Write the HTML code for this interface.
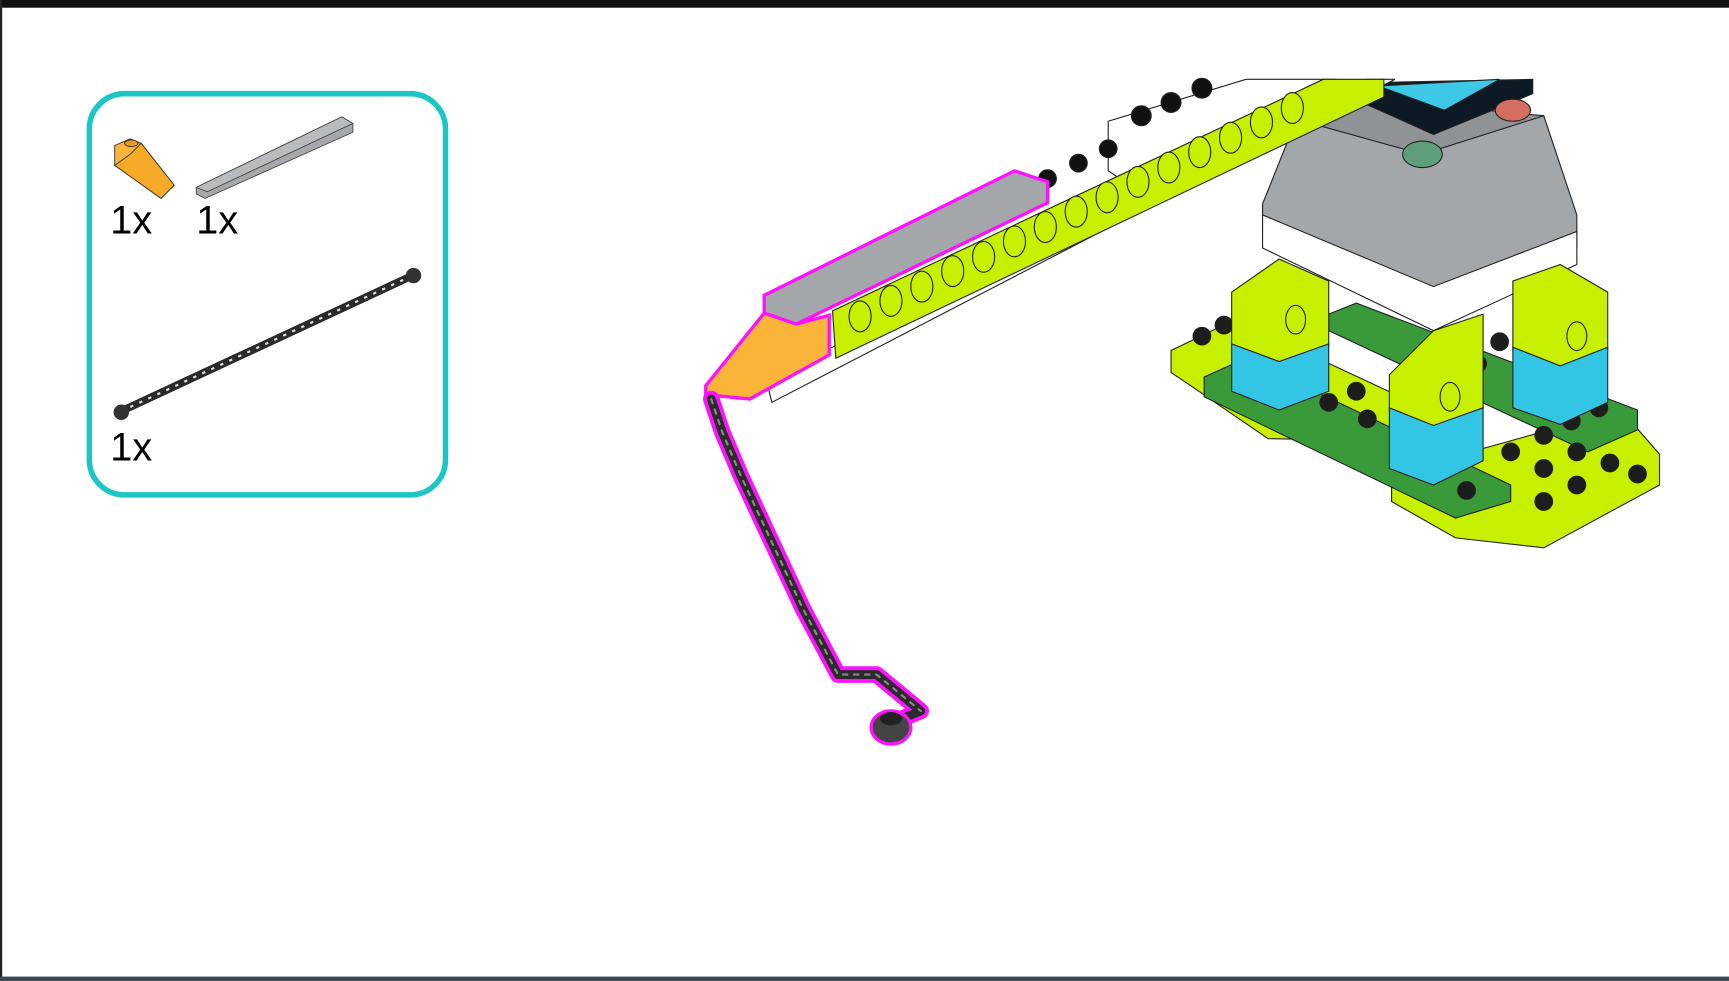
<!DOCTYPE html>
<html><head><meta charset="utf-8"><style>
html,body{margin:0;padding:0;background:#fff;}
svg{display:block;}
text{font-family:"Liberation Sans",sans-serif;}
</style></head><body>
<svg width="1729" height="981" viewBox="0 0 1568 890" preserveAspectRatio="none">
<rect x="0" y="0" width="1568" height="890" fill="#fff"/>
<rect x="0" y="0" width="1568" height="7" fill="#111"/>
<rect x="0" y="0" width="2" height="890" fill="#222"/>
<rect x="0" y="886" width="1568" height="4" fill="#3a4a52"/>

<g>
<rect x="81" y="85" width="323" height="364" rx="32" fill="none" stroke="#1cc6c6" stroke-width="5"/>
<g stroke="#333" stroke-width="0.8">
<polygon points="104,132 118,126 128,130 158,168 146,180 104,150" fill="#fbb43a"/>
<polygon points="104,150 146,180 158,168 128,130 118,140" fill="#f7a928"/>
<ellipse cx="119" cy="130" rx="6" ry="3" fill="#e89a20"/>
</g>
<g stroke="#444" stroke-width="0.8">
<polygon points="178,170 310,106 320,112 320,120 186,180 178,176" fill="#a6a9ac"/>
<polygon points="178,170 310,106 320,112 188,174" fill="#b9bcbf"/>
</g>
<text x="100" y="212" font-size="36">1x</text>
<text x="178" y="212" font-size="36">1x</text>
<g>
<line x1="110" y1="373" x2="374" y2="250" stroke="#2a2a2a" stroke-width="7"/>
<line x1="110" y1="373" x2="374" y2="250" stroke="#ddd" stroke-width="2" stroke-dasharray="3 6"/>
<circle cx="110" cy="374" r="7" fill="#333"/>
<circle cx="375" cy="250" r="7" fill="#333"/>
</g>
<text x="100" y="418" font-size="36">1x</text>
</g>

<g stroke="#222" stroke-width="1">
<polygon points="1062,318 1120,290 1270,360 1270,400 1150,398 1080,350 1062,338" fill="#c6f000"/>
<polygon points="1262,430 1470,372 1505,412 1505,440 1400,497 1320,488 1262,455" fill="#c6f000"/>
<polygon points="1205,285 1230,275 1485,372 1485,390 1440,410 1205,300" fill="#3a9a3a"/>
<polygon points="1092,342 1130,325 1370,440 1370,455 1320,470 1092,360" fill="#3a9a3a"/>
<g fill="#1d1d1d">
<circle cx="1090" cy="305" r="8"/><circle cx="1110" cy="295" r="8"/><circle cx="1230" cy="355" r="8"/><circle cx="1205" cy="365" r="8"/><circle cx="1240" cy="380" r="8"/>
<circle cx="1400" cy="395" r="8"/><circle cx="1430" cy="410" r="8"/><circle cx="1460" cy="420" r="8"/><circle cx="1400" cy="425" r="8"/><circle cx="1430" cy="440" r="8"/><circle cx="1370" cy="410" r="8"/><circle cx="1400" cy="455" r="8"/><circle cx="1485" cy="430" r="8"/><circle cx="1330" cy="445" r="8"/><circle cx="1450" cy="370" r="8"/><circle cx="1425" cy="382" r="8"/><circle cx="1360" cy="310" r="8"/><circle cx="1340" cy="330" r="8"/>
</g>
<polygon points="1175,110 1400,105 1430,195 1430,225 1300,275 1145,210 1145,185" fill="#a3a7aa"/>
<polygon points="1145,195 1300,260 1430,210 1430,240 1300,300 1145,225" fill="#fff"/>
<polygon points="1175,108 1240,90 1400,105 1290,140" fill="#8f9396"/>
<polygon points="1240,75 1390,72 1390,85 1300,122 1240,95" fill="#0d1a24"/>
<polygon points="1250,78 1360,72 1310,100" fill="#3cc8e6"/>
<ellipse cx="1290" cy="140" rx="18" ry="12" fill="#5e9e7a"/>
<ellipse cx="1372" cy="100" rx="16" ry="10" fill="#d46e60"/>
<polygon points="1117,265 1160,235 1205,255 1205,315 1160,330 1117,315" fill="#c6f000"/>
<polygon points="1117,312 1160,328 1205,312 1205,355 1160,372 1117,355" fill="#33c5e4"/>
<polygon points="1372,255 1415,240 1458,265 1458,318 1415,335 1372,318" fill="#c6f000"/>
<polygon points="1372,315 1415,332 1458,315 1458,365 1415,385 1372,370" fill="#33c5e4"/>
<polygon points="1260,340 1300,300 1345,285 1345,370 1300,388 1260,372" fill="#c6f000"/>
<polygon points="1260,370 1300,386 1345,370 1345,418 1300,440 1260,425" fill="#33c5e4"/>
<ellipse cx="1175" cy="290" rx="9" ry="13" fill="#c6f000"/>
<ellipse cx="1430" cy="305" rx="9" ry="13" fill="#c6f000"/>
<ellipse cx="1315" cy="360" rx="9" ry="13" fill="#c6f000"/>
</g>

<g stroke="#222" stroke-width="1">
<polygon points="695,345 1240,72 1265,72 700,365" fill="#fff"/>
<polygon points="1005,110 1130,72 1210,72 1035,175 1005,155" fill="#fff"/>
<g fill="#111"><circle cx="1035" cy="105" r="9"/><circle cx="1062" cy="93" r="9"/><circle cx="1090" cy="80" r="9"/><circle cx="1005" cy="135" r="8"/><circle cx="978" cy="148" r="8"/><circle cx="950" cy="162" r="8"/></g>
<polygon points="755,282 1200,72 1255,72 1255,88 758,325" fill="#c6f000"/>
<g fill="#c6f000" stroke="#222">
<ellipse cx="780" cy="287" rx="10" ry="14"/><ellipse cx="808" cy="273" rx="10" ry="14"/><ellipse cx="836" cy="260" rx="10" ry="14"/><ellipse cx="864" cy="246" rx="10" ry="14"/><ellipse cx="892" cy="233" rx="10" ry="14"/><ellipse cx="920" cy="219" rx="10" ry="14"/><ellipse cx="948" cy="206" rx="10" ry="14"/><ellipse cx="976" cy="192" rx="10" ry="14"/><ellipse cx="1004" cy="179" rx="10" ry="14"/><ellipse cx="1032" cy="165" rx="10" ry="14"/><ellipse cx="1060" cy="152" rx="10" ry="14"/><ellipse cx="1088" cy="138" rx="10" ry="14"/><ellipse cx="1116" cy="125" rx="10" ry="14"/><ellipse cx="1144" cy="111" rx="10" ry="14"/><ellipse cx="1172" cy="98" rx="10" ry="14"/>
</g>
<polygon points="693,268 920,155 950,165 950,184 722,294 693,284" fill="#a3a7aa" stroke="#ff10ff" stroke-width="3"/>
<polygon points="640,350 693,284 722,294 752,286 752,322 680,362 640,358" fill="#fbb43a" stroke="#ff10ff" stroke-width="3"/>
</g>

<g fill="none" stroke-linejoin="round" stroke-linecap="round">
<polyline points="645,362 655,392 672,432 700,492 728,552 760,612 795,612 835,645 818,652" stroke="#ff10ff" stroke-width="15"/>
<polyline points="645,362 655,392 672,432 700,492 728,552 760,612 795,612 835,645 818,652" stroke="#2b2b2b" stroke-width="8"/>
<polyline points="645,362 655,392 672,432 700,492 728,552 760,612 795,612 835,645" stroke="#888" stroke-width="2" stroke-dasharray="4 6"/>
<ellipse cx="808" cy="660" rx="18" ry="15" fill="#444" stroke="#ff10ff" stroke-width="3"/>
<ellipse cx="808" cy="652" rx="10" ry="6" fill="#222"/>
</g>
</svg>
</body></html>
